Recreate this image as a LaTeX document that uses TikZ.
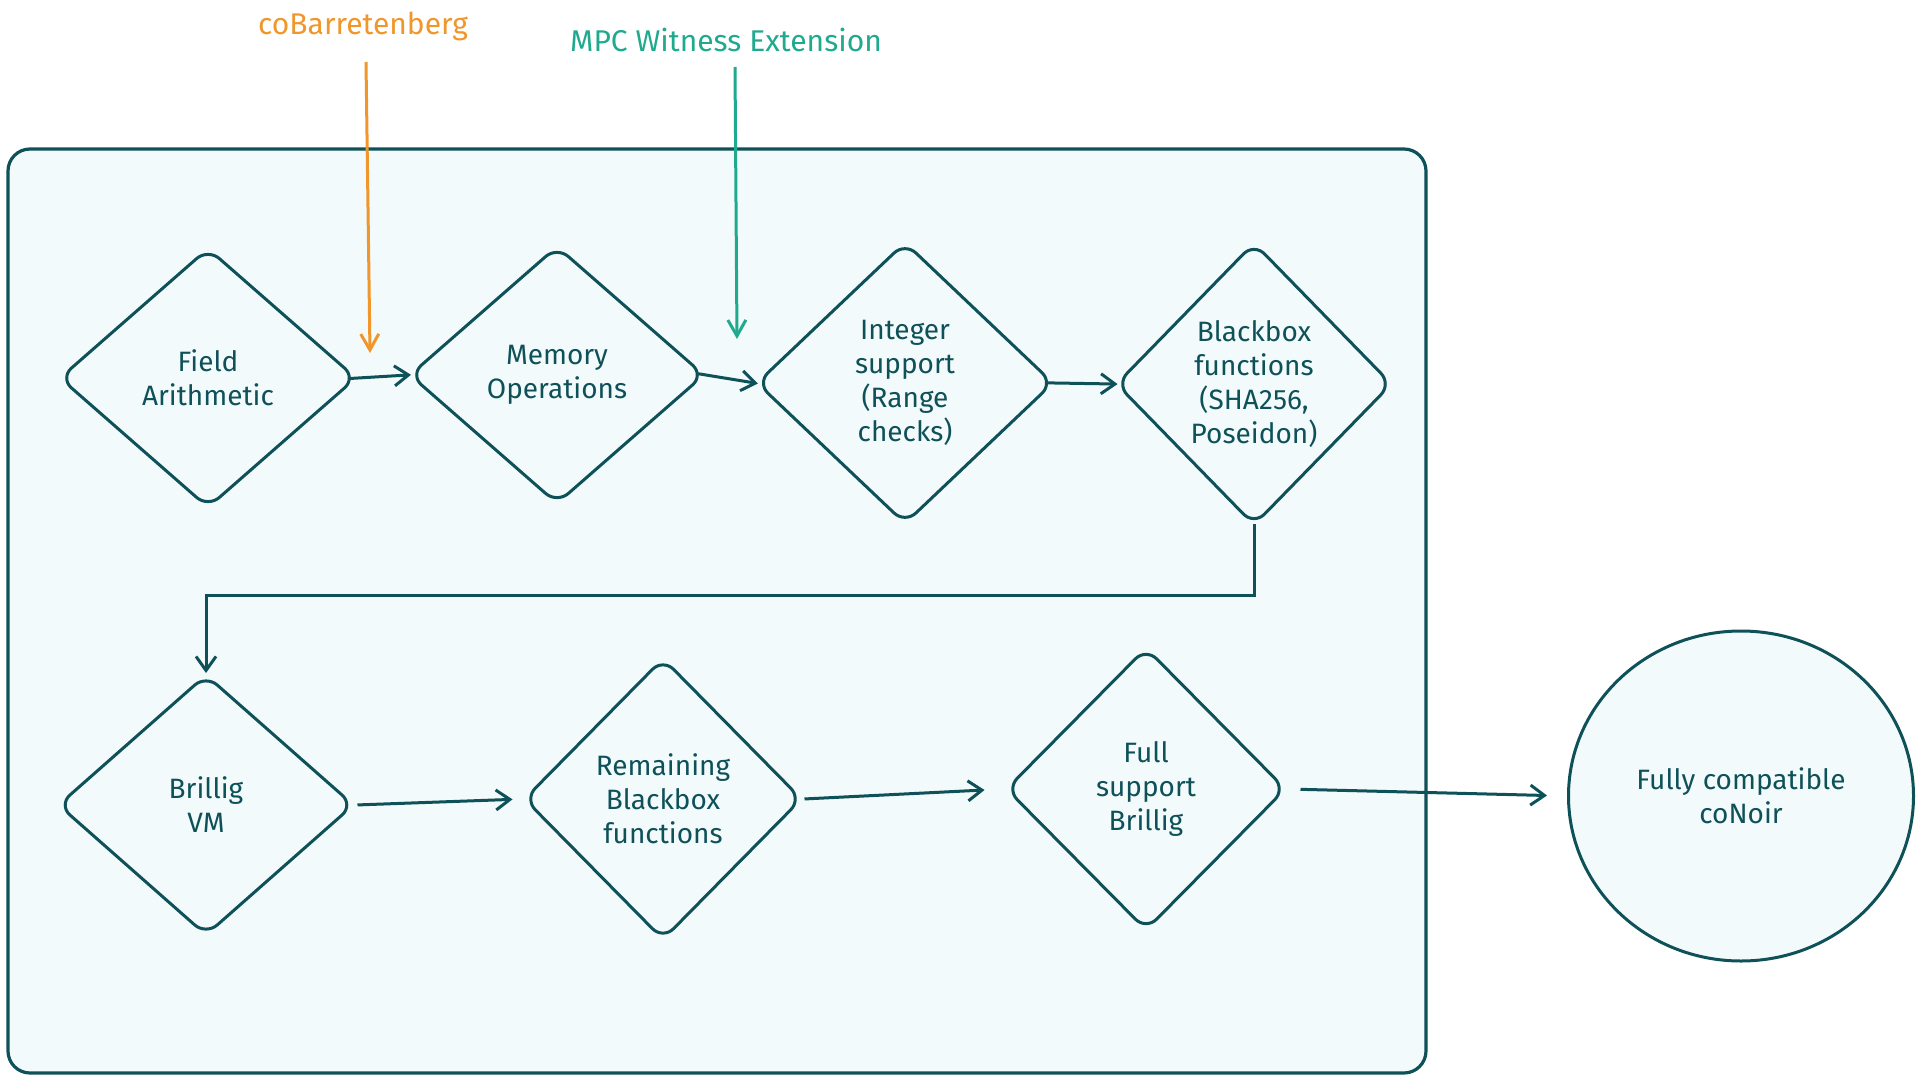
\documentclass[tikz,border=0pt]{standalone}
\usepackage{fontspec}
\setmainfont{Fira Sans}
\usetikzlibrary{shapes.geometric,arrows.meta}
\definecolor{ink}{HTML}{0E5159}
\definecolor{paper}{HTML}{F3FAFB}
\definecolor{orng}{HTML}{F0962A}
\definecolor{tealg}{HTML}{1FA98E}
\begin{document}
\begin{tikzpicture}[x=1pt,y=-1pt,
  txt/.style={font=\fontsize{28}{34}\selectfont, align=center},
  lbl/.style={font=\fontsize{30}{34}\selectfont, align=center},
  dia/.style={shape=diamond, draw=ink, line width=3pt, fill=paper, rounded corners=15pt,
     inner sep=0pt, text=ink, txt},
  arr/.style={draw=ink, line width=3pt, -{Straight Barb[length=14pt,width=20pt]}},
  feed/.style={line width=3pt, -{Straight Barb[length=16pt,width=18pt]}}]
\useasboundingbox (0,0) rectangle (1920,1079);
% outer frame
\node[draw=ink, fill=paper, line width=3.2pt, rounded corners=22pt, inner sep=0pt,
      minimum width=1418pt, minimum height=924pt] (frame) at (717,611) {};
% top labels
\node[lbl, text=orng] (cob) at (363,26) {coBarretenberg};
\node[lbl, text=tealg] (mpc) at (726,40) {MPC Witness Extension};
\coordinate (cobs) at (366,62);
\coordinate (cobe) at (370,353);
\coordinate (mpcs) at (735,67);
\coordinate (mpce) at (737,339);
% row 1
\node[dia, minimum width=297pt, minimum height=260pt] (fa) at (208,378) {Field\\Arithmetic};
\node[dia, minimum width=295pt, minimum height=258pt] (mo) at (557,375) {Memory\\Operations};
\node[dia, minimum width=297pt, minimum height=282pt] (is) at (905,383) {Integer\\support\\(Range\\checks)};
\node[dia, minimum width=276pt, minimum height=283pt] (bb) at (1254,384) {Blackbox\\functions\\(SHA256,\\Poseidon)};
% row 2
\node[dia, minimum width=296pt, minimum height=261pt] (bv) at (206,805) {Brillig\\VM};
\node[dia, minimum width=278pt, minimum height=282pt] (rb) at (663,799) {Remaining\\Blackbox\\functions};
\node[dia, minimum width=280pt, minimum height=283pt] (fs) at (1146,789) {Full\\support\\Brillig};
\node[shape=ellipse, draw=ink, line width=3pt, fill=paper, inner sep=0pt, text=ink, txt,
      minimum width=345pt, minimum height=330pt] (cn) at (1741,796) {Fully compatible\\coNoir};
% connectors
\draw[feed, draw=orng] (cobs) -- (cobe);
\draw[feed, draw=tealg] (mpcs) -- (mpce);
\draw[arr, shorten <=-8pt, shorten >=-3pt] (fa.east) -- (mo.west);
\draw[arr, shorten <=-8pt, shorten >=-3pt] (mo.east) -- (is.west);
\draw[arr, shorten <=-8pt, shorten >=-3pt] (is.east) -- (bb.west);
\draw[arr] ([yshift=3pt]bb.south) -- ++(0,71) -| (bv.north);
\draw[arr, shorten <=2pt, shorten >=10pt] (bv.east) -- (rb.west);
\draw[arr, shorten <=1pt, shorten >=20pt] (rb.east) -- (fs.west);
\draw[arr, shorten <=13pt, shorten >=20pt] (fs.east) -- (cn.west);
\end{tikzpicture}
\end{document}
